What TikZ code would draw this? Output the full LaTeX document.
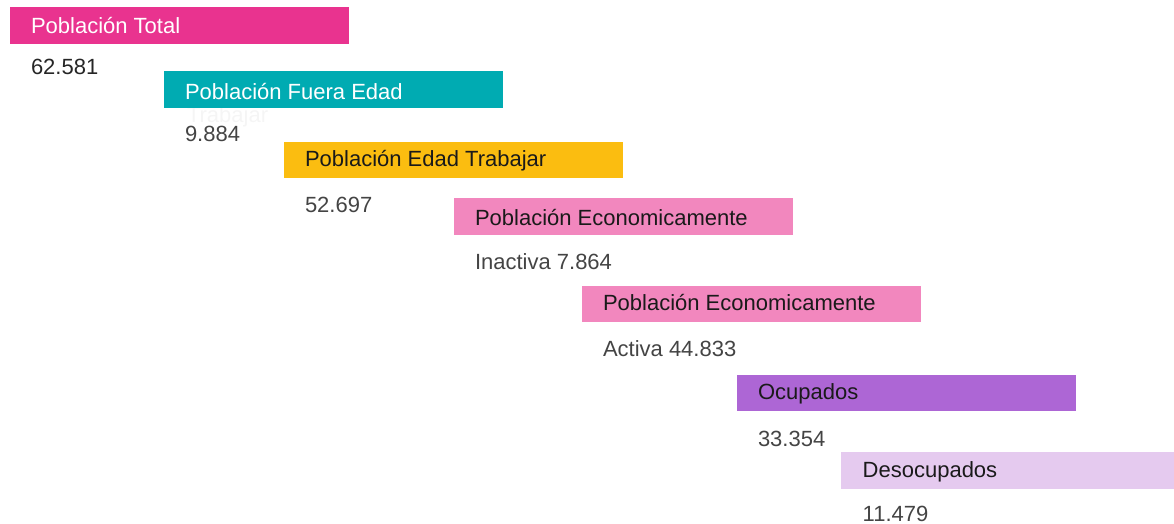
\documentclass[tikz,border=0pt]{standalone}
\usepackage{fontspec}
\setmainfont{Liberation Sans}
\definecolor{cTotal}{HTML}{E9338F}
\definecolor{cFuera}{HTML}{00ABB2}
\definecolor{cEdad}{HTML}{FBBD10}
\definecolor{cEcon}{HTML}{F287BE}
\definecolor{cOcup}{HTML}{AD66D5}
\definecolor{cDesoc}{HTML}{E5CAEF}
\definecolor{cText}{HTML}{1A1A1A}
\definecolor{cNum}{HTML}{444444}
\definecolor{cNumDark}{HTML}{262626}
\begin{document}
\begin{tikzpicture}[x=1pt,y=-1pt,
  bar/.style={rectangle,anchor=north west,inner sep=0pt,outer sep=0pt,minimum width=339pt,minimum height=36.8pt},
  lbl/.style={anchor=base west,inner sep=0pt,outer sep=0pt,font=\fontsize{22}{26}\selectfont,text=cText},
  num/.style={lbl,text=cNum}]
\useasboundingbox (0,0) rectangle (1174,523);
% faint text lying under the second bar
\node[lbl,text=black!4] (t2b) at (187,122) {Trabajar};
% bars
\node[bar,fill=cTotal] (b1) at (10,6.7) {};
\node[bar,fill=cFuera] (b2) at (164,71) {};
\node[bar,fill=cEdad] (b3) at (284,141.5) {};
\node[bar,fill=cEcon] (b4) at (453.5,198.2) {};
\node[bar,fill=cEcon] (b5) at (582,285.5) {};
\node[bar,fill=cOcup] (b6) at (737,374.5) {};
\node[bar,fill=cDesoc] (b7) at (840.7,451.7) {};
% bar labels
\node[lbl,text=white] (t1) at (31,33.3) {Población Total};
\node[lbl,text=white] (t2) at (185,99) {Población Fuera Edad};
\node[lbl] (t3) at (305,166.7) {Población Edad Trabajar};
\node[lbl] (t4) at (475,225) {Población Economicamente};
\node[lbl] (t5) at (603,310) {Población Economicamente};
\node[lbl] (t6) at (758,399) {Ocupados};
\node[lbl] (t7) at (862.7,477.7) {Desocupados};
% values
\node[num,text=cNumDark] (n1) at (31,74) {62.581};
\node[num] (n2) at (185,141.7) {9.884};
\node[num] (n3) at (305,212.7) {52.697};
\node[num] (n4) at (475,269.3) {Inactiva 7.864};
\node[num] (n5) at (603,356.7) {Activa 44.833};
\node[num] (n6) at (758,446) {33.354};
\node[num] (n7) at (862.7,521) {11.479};
\end{tikzpicture}
\end{document}
